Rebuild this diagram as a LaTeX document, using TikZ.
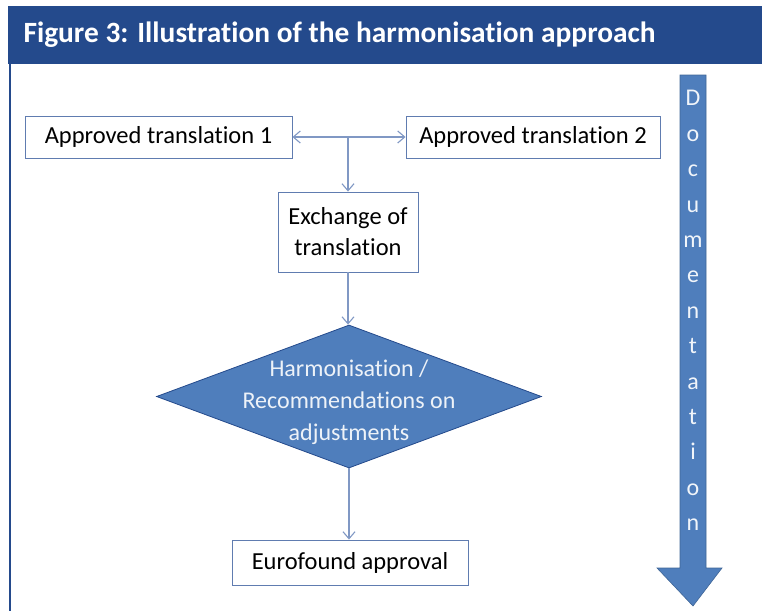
\documentclass[tikz,border=0pt]{standalone}
\usepackage{fontspec}
\setmainfont{Carlito}[Ligatures=NoCommon]
\usetikzlibrary{shapes.geometric,arrows.meta}
\definecolor{headblue}{RGB}{36,74,140}
\definecolor{stepblue}{RGB}{79,126,188}
\definecolor{linkblue}{RGB}{128,152,196}
\definecolor{boxline}{RGB}{96,124,176}
\tikzset{
  stepbox/.style={draw=boxline, line width=0.9pt, fill=white, align=center,
    inner sep=0pt, font=\fontsize{24.5}{31}\selectfont},
  link/.style={draw=linkblue, line width=1.1pt, -{Straight Barb[length=7pt,width=12pt]}}
}
\begin{document}
\begin{tikzpicture}[x=1pt, y=-1pt]
  \useasboundingbox (0,0) rectangle (762,611);
  % frame and title band
  \fill[headblue] (8,6) rectangle (762,64);
  \draw[headblue, line width=2pt] (10,64) -- (10,611);
  \node[anchor=west, text=white, font=\bfseries\fontsize{29.4}{32}\selectfont] (title) at (20,35)
    {Figure 3: Illustration of the harmonisation approach};
  % flow steps
  \node[stepbox, minimum width=267pt, minimum height=42pt] (tr1) at (158.5,137) {Approved translation 1};
  \node[stepbox, minimum width=254pt, minimum height=42pt] (tr2) at (533,137) {Approved translation 2};
  \node[stepbox, minimum width=140pt, minimum height=80pt] (exch) at (348,232) {Exchange of\\translation};
  \node[diamond, draw=headblue, line width=0.8pt, fill=stepblue, minimum width=385pt,
    minimum height=143pt, inner sep=0pt] (harm) at (349,396.5) {};
  \node[align=center, text=white!90!stepblue, font=\fontsize{24}{32}\selectfont] (harmtext)
    at (harm.center) [yshift=-6pt] {Harmonisation /\\Recommendations on\\adjustments};
  \node[stepbox, minimum width=236pt, minimum height=45pt] (euro) at (350,562.5) {Eurofound approval};
  % connectors
  \coordinate (mid) at (348,137);
  \draw[link, {Straight Barb[length=7pt,width=12pt]}-{Straight Barb[length=7pt,width=12pt]}] (tr1) -- (tr2);
  \draw[link] (mid) -- (exch);
  \draw[link] (exch) -- (exch |- harm.north);
  \draw[link] (harm.south) -- (harm.south |- euro.north);
  % documentation arrow
  \draw[fill=stepblue, draw=stepblue!80!black, line width=0.6pt]
    (680,75) -- (706,75) -- (706,568) -- (722,568) -- (693,606) -- (657,568) -- (680,568) -- cycle;
  \node[text=white!92!stepblue, align=center, font=\fontsize{24}{35.4}\selectfont, anchor=north] (doc)
    at (693,87) {D\\o\\c\\u\\m\\e\\n\\t\\a\\t\\i\\o\\n};
\end{tikzpicture}
\end{document}
